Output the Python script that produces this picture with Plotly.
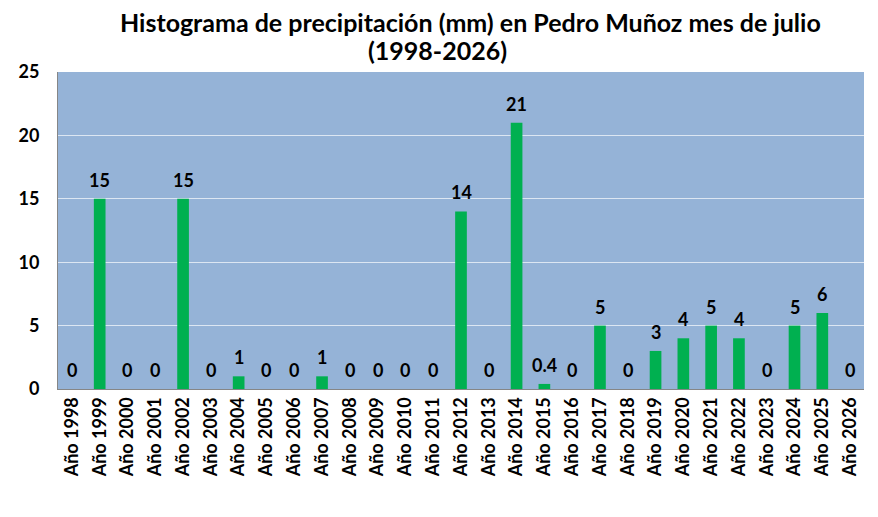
import plotly.graph_objects as go

years = list(range(1998, 2027))
categories = ["Año %d" % y for y in years]
precip = [0, 15, 0, 0, 15, 0, 1, 0, 0, 1, 0, 0, 0, 0, 14, 0, 21, 0.4, 0,
          5, 0, 3, 4, 5, 4, 0, 5, 6, 0]
labels = ["0.4" if v == 0.4 else str(int(v)) for v in precip]

font = "Lato"

fig = go.Figure([go.Bar(
    x=categories, y=precip,
    marker=dict(color="#00B050", line=dict(width=0)),
    width=0.42,
)])

# etiquetas de datos encima de cada barra
for cat, v, lab in zip(categories, precip, labels):
    fig.add_annotation(x=cat, y=v, text="<b>%s</b>" % lab, showarrow=False,
                       yanchor="bottom", yshift=6,
                       font=dict(family=font, size=18, color="black"))

fig.add_annotation(text="<b>Histograma de precipitación (mm) en Pedro Muñoz mes de julio</b>",
                   xref="paper", yref="paper", x=(462 - 50) / 806, y=1.158,
                   yanchor="middle", showarrow=False,
                   font=dict(family=font, size=25, color="black"))
fig.add_annotation(text="<b>(1998-2026)</b>",
                   xref="paper", yref="paper", x=(429.5 - 50) / 806, y=1.069,
                   yanchor="middle", showarrow=False,
                   font=dict(family=font, size=25, color="black"))

fig.update_layout(
    width=862, height=501,
    margin=dict(l=50, r=6, t=64, b=120),
    paper_bgcolor="white", plot_bgcolor="#95B3D7",
    showlegend=False,
    font=dict(family=font, color="black"),
)
fig.update_yaxes(range=[0, 25], dtick=5, showgrid=True, gridcolor="#DCE6F2", gridwidth=1,
                 tickfont=dict(family=font, size=18, weight="bold"),
                 showline=True, linecolor="#868686", linewidth=1,
                 ticks="", zeroline=False, ticklabelstandoff=14)
fig.update_xaxes(tickangle=-90, tickfont=dict(family=font, size=18, weight="bold"),
                 showline=True, linecolor="#868686", linewidth=1, ticks="")

fig.write_html("out.html")
